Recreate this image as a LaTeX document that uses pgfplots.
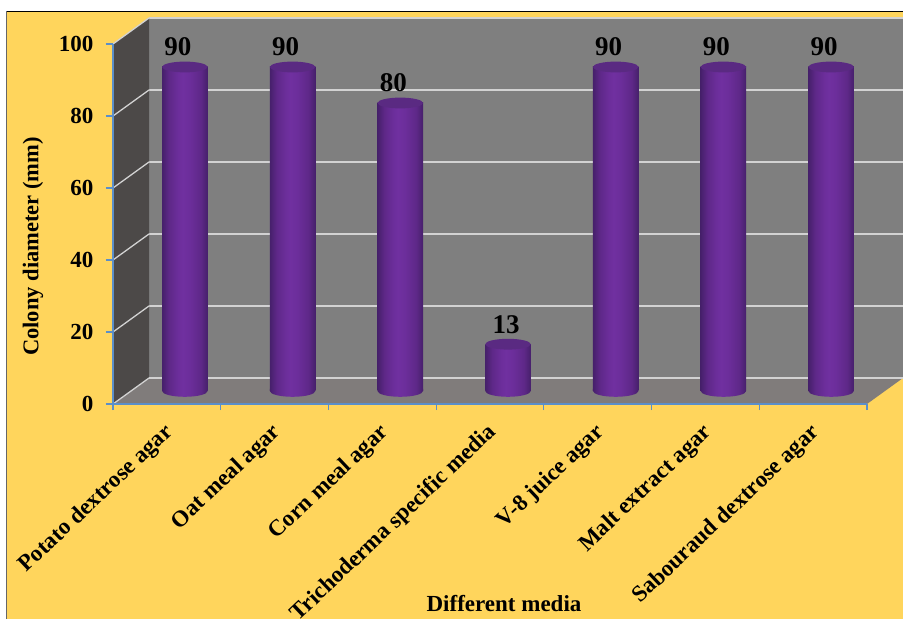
\documentclass[border=0pt]{standalone}
\usepackage{pgfplots}
\usepackage{pgfplotstable}
\pgfplotsset{compat=1.18}
\usepackage{fontspec}
\setmainfont{Liberation Serif}
\definecolor{panel}{HTML}{FFD55C}
\definecolor{wallback}{HTML}{7F7F7F}
\definecolor{wallside}{HTML}{4C4948}
\definecolor{wallfloor}{HTML}{807C7B}
\definecolor{gridc}{HTML}{D2D2D2}
\definecolor{axisblue}{HTML}{5B8FC9}
\definecolor{cylmid}{HTML}{7030A0}
\definecolor{cylsoft}{HTML}{6C2E9B}
\definecolor{cylside}{HTML}{5E2888}
\definecolor{cyledge}{HTML}{46206B}
\definecolor{cyltopc}{HTML}{5A2A82}

% Rounded look of a cylinder wall, brightest just left of its middle
\pgfdeclarehorizontalshading{cylwall}{100bp}{%
  color(0bp)=(cyledge); color(25bp)=(cyledge); color(32.5bp)=(cylside);
  color(42.5bp)=(cylsoft); color(47.5bp)=(cylmid); color(55bp)=(cylsoft);
  color(67.5bp)=(cylside); color(75bp)=(cyledge); color(100bp)=(cyledge)}

% Cylinder ends: the lower rim at the base and the lid at the top
\pgfdeclareplotmark{cylbase}{%
  \path[draw=none,shade,shading=cylwall,rotate=3]
    (-22.75pt,2pt) -- (-22.75pt,0pt)
    arc[start angle=180,end angle=360,x radius=22.75pt,y radius=5.8pt]
    -- (22.75pt,2pt) -- cycle;}
\pgfdeclareplotmark{cyllid}{%
  \path[draw=none,fill=cyltopc,rotate=3] (0pt,0pt) ellipse[x radius=22.75pt,y radius=5.4pt];}

\pgfplotstableread{
x y
0 90
1 90
2 80
3 13
4 90
5 90
6 90
}\colonydata

% One cylinder body, shaded on its own
\pgfplotsset{cylbody/.style={ybar,bar width=45.5pt,bar shift=0pt,draw=none,forget plot,
  shade,shading=cylwall}}

\begin{document}
\begin{tikzpicture}[x=1pt,y=1pt]
\useasboundingbox (0,0) rectangle (903,619);
\clip (0,0) rectangle (903,619);
% page and chart panel
\fill[white] (0,0) rectangle (903,619);
\fill[panel] (7,0) rectangle (903,607.5);
\draw[black,line width=1.3pt] (6,607.5) -- (903,607.5);
\draw[black!60,line width=1.2pt] (6.5,0) -- (6.5,607.5);

% back wall with its gridlines
\begin{axis}[
  at={(149pt,241pt)},anchor=south west,
  scale only axis,width=754pt,height=360pt,
  xmin=0,xmax=1,ymin=0,ymax=100,
  axis line style={draw=none},
  axis background/.style={fill=wallback},
  xtick=\empty,ytick={0,20,...,100},yticklabels={},
  major tick length=0pt,
  ymajorgrids,grid style={gridc,line width=1.5pt},
  clip=false]
\end{axis}

% side wall and floor
\fill[wallside] (113,215) -- (149,241) -- (149,601) -- (113,575) -- cycle;
\fill[wallfloor] (113,215) -- (149,241) -- (903,241) -- (867,215) -- cycle;
\foreach \k in {0,72,...,360}
  \draw[gridc,line width=1.3pt] (113,215+\k) -- (149,241+\k);
\draw[gridc,line width=1.5pt] (149,241) -- (903,241);

% front axes: scale, categories and titles
\begin{axis}[
  at={(113pt,215pt)},anchor=south west,
  scale only axis,width=754pt,height=360pt,
  xmin=-0.5,xmax=6.5,ymin=0,ymax=100,
  axis x line=bottom,axis y line=left,
  axis line style={axisblue,line width=1.5pt,-},
  tick style={axisblue,line width=1.2pt},
  tick align=outside,
  ytick={0,20,...,100},
  xtick={0,...,6},
  minor xtick={-0.5,0.5,...,6.5},
  major x tick style={draw=none},
  minor tick length=6pt,
  major tick length=7pt,
  xticklabels={Potato dextrose agar,Oat meal agar,Corn meal agar,Trichoderma specific media,V-8 juice agar,Malt extract agar,Sabouraud dextrose agar},
  /pgf/number format/assume math mode=true,
  yticklabel style={font=\bfseries\fontsize{23}{24}\selectfont,xshift=-9pt},
  xticklabel style={font=\bfseries\fontsize{23}{24}\selectfont,rotate=43.5,anchor=east,xshift=-7pt,yshift=-15.5pt},
  xlabel={Different media},
  ylabel={Colony diameter (mm)},
  every axis x label/.style={at={(axis description cs:0.5186,-0.555)},anchor=center,font=\bfseries\fontsize{23}{24}\selectfont},
  every axis y label/.style={at={(axis description cs:-0.106,0.4375)},anchor=center,rotate=90,font=\bfseries\fontsize{22.5}{24}\selectfont},
  clip=false]
\end{axis}

% cylinders, set midway between the front edge and the back wall
\begin{axis}[
  at={(131pt,228pt)},anchor=south west,
  scale only axis,width=754pt,height=360pt,
  xmin=-0.5,xmax=6.5,ymin=0,ymax=100,
  /pgf/number format/assume math mode=true,
  hide axis,clip=false]
\addplot[only marks,mark=cylbase] coordinates {(0,0) (1,0) (2,0) (3,0) (4,0) (5,0) (6,0)};
\addplot[cylbody] coordinates {(0,90)};
\addplot[cylbody] coordinates {(1,90)};
\addplot[cylbody] coordinates {(2,80)};
\addplot[cylbody] coordinates {(3,13)};
\addplot[cylbody] coordinates {(4,90)};
\addplot[cylbody] coordinates {(5,90)};
\addplot[cylbody] coordinates {(6,90)};
\addplot[only marks,mark=cyllid,
  nodes near coords,
  coordinate style/.condition={y<20}{xshift=5pt},
  nodes near coords style={font=\bfseries\fontsize{27}{28}\selectfont,anchor=center,
    yshift=20pt,xshift=-7pt,text=black}]
  table[x=x,y=y] {\colonydata};
\end{axis}
\end{tikzpicture}
\end{document}
